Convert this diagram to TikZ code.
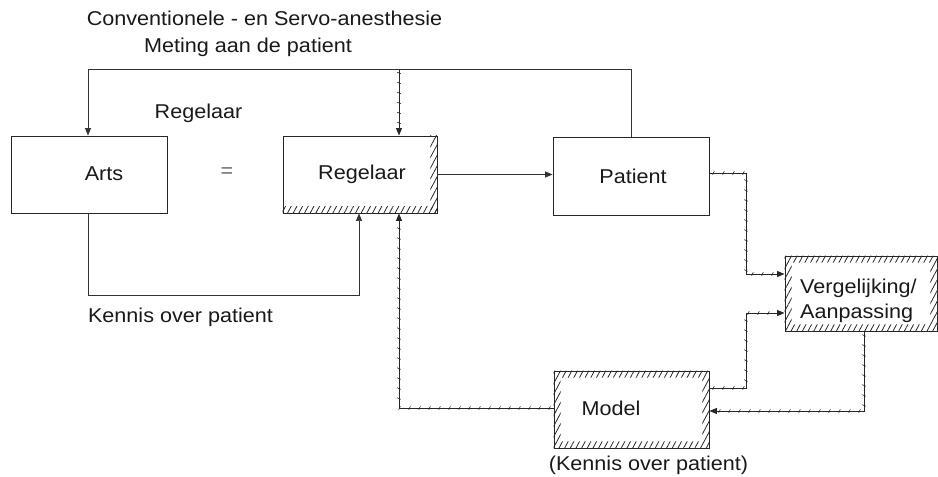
\documentclass[tikz,border=0pt]{standalone}
\usepackage{fontspec}
\setmainfont{Liberation Sans}[FakeStretch=1.08]
\usetikzlibrary{arrows.meta,patterns.meta,decorations.markings}
\begin{document}
\begin{tikzpicture}[x=1pt,y=-1pt,
  box/.style={draw=black!85,line width=0.9pt,minimum width=#1,minimum height=77pt,inner sep=0pt},
  lbl/.style={inner sep=0pt,text=black!90,font=\fontsize{20}{25}\selectfont},
  hatch/.style={pattern={Lines[angle=62,distance=5pt,line width=0.8pt]},pattern color=black!85},
  tip/.style={-{Triangle[length=7.5pt,width=6pt]}},
  conn/.style={draw=black!80,line width=0.7pt,tip},
  jag/.style={draw=black!85,line width=1pt,tip,
    postaction={decorate,decoration={markings,
      mark=between positions 4pt and 0.96 step 10pt with {\draw[line width=0.6pt,-] (-0.8pt,-1.8pt) -- (0.8pt,1.8pt);}}}}
]
\useasboundingbox (0,0) rectangle (938,477);

% boxes
\node[box=156pt] (arts) at (89,174.5) {};
\node[box=154pt] (reg) at (360,174.5) {};
\node[box=156pt,minimum height=78pt] (pat) at (631,176) {};
\node[box=152pt,minimum height=75pt] (verg) at (861,293.5) {};
\node[box=155pt] (model) at (631.5,409.5) {};

% hatching
\fill[hatch] ([xshift=-7pt]reg.north east) rectangle (reg.south east);
\fill[hatch] ([yshift=7pt]reg.south west) rectangle (reg.south east);
\fill[hatch,even odd rule] (model.north west) rectangle (model.south east)
  ([xshift=7pt,yshift=-7pt]model.north west) rectangle ([xshift=-7pt,yshift=7pt]model.south east);
\fill[hatch,even odd rule] (verg.north west) rectangle (verg.south east)
  ([xshift=7pt,yshift=-7pt]verg.north west) rectangle ([xshift=-7pt,yshift=7pt]verg.south east);

% texts
\node[lbl] (title) at (264.5,18) {Conventionele - en Servo-anesthesie};
\node[lbl] (meting) at (248,47) {Meting aan de patient};
\node[lbl] (reglab) at (198.5,113) {Regelaar};
\node[lbl,text=black!60] (eq) at (227,173) {=};
\node[lbl] (kennis) at (180.5,317) {Kennis over patient};
\node[lbl] (kennis2) at (648.5,465) {(Kennis over patient)};
\node[lbl] (artst) at (104,174) {Arts};
\node[lbl] (regt) at (362,174) {Regelaar};
\node[lbl] (patt) at (633,176) {Patient};
\node[lbl] (modelt) at (611,408) {Model};
\node[lbl,align=left,anchor=west] (vergt) at (800,300.5) {Vergelijking/\\Aanpassing};

% coordinates
\coordinate (tr) at (631,69);
\coordinate (tl) at (88,69);
\coordinate (tm) at (399,69);
\coordinate (kl) at (88,295);
\coordinate (kr) at (359,295);
\coordinate (ml) at (399,408);
\coordinate (p1) at (746,173);
\coordinate (p2) at (746,274);
\coordinate (m1) at (746,388);
\coordinate (m2) at (746,313);
\coordinate (v1) at (864,411);

% solid connectors
\draw[conn] (pat.north) -- (tr) -- (tl) -- (tl |- arts.north);
\draw[conn] (reg.east) -- (reg.east -| pat.west);
\draw[conn] (kl |- arts.south) -- (kl) -- (kr) -- (kr |- reg.south);

% jagged connectors
\draw[jag] (tm) -- (tm |- reg.north);
\draw[jag] (model.west |- ml) -- (ml) -- (ml |- reg.south);
\draw[jag] (pat.east |- p1) -- (p1) -- (p2) -- (p2 -| verg.west);
\draw[jag] (model.east |- m1) -- (m1) -- (m2) -- (m2 -| verg.west);
\draw[jag] (v1 |- verg.south) -- (v1) -- (v1 -| model.east);
\end{tikzpicture}
\end{document}
